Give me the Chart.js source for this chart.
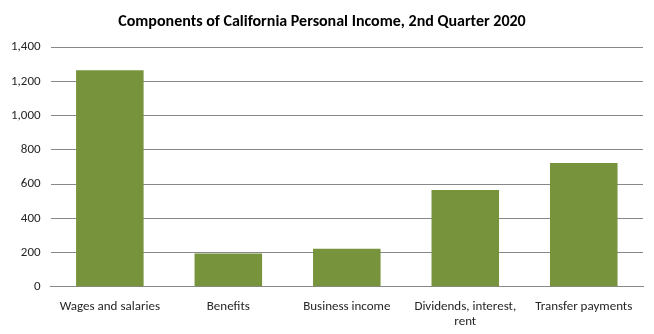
<!DOCTYPE html>
<html>
<head>
<meta charset="utf-8">
<script src="https://cdn.jsdelivr.net/npm/chart.js@4.4.0/dist/chart.umd.min.js"></script>
<style>
    html, body { margin: 0; padding: 0; background: #fff; }
    #wrap { width: 654px; height: 334px; }
</style>
</head>
<body>
<div id="wrap"><canvas id="chartIncome"></canvas></div>
<script>
const categories = ['Wages and salaries', 'Benefits', 'Business income', ['Dividends, interest,', 'rent'], 'Transfer payments'];
const incomeValues = [1265, 195, 222, 566, 723];
const yTicks = [0, 200, 400, 600, 800, 1000, 1200, 1400];

const gridGray = '#888888';
const fontFamily = 'Carlito, Calibri, "Liberation Sans", sans-serif';

new Chart(document.getElementById('chartIncome').getContext('2d'), {
    type: 'bar',
    data: {
        labels: categories,
        datasets: [{
            label: 'Personal income',
            data: incomeValues,
            backgroundColor: '#77933C',
            barPercentage: 0.57,
            categoryPercentage: 1
        }]
    },
    options: {
        responsive: true,
        maintainAspectRatio: false,
        animation: false,
        layout: { padding: { left: 1, right: 11, top: 8, bottom: 0 } },
        plugins: {
            legend: { display: false },
            tooltip: { enabled: false },
            title: {
                display: true,
                text: 'Components of California Personal Income, 2nd Quarter 2020',
                color: '#000',
                font: { family: fontFamily, size: 16, weight: 'bold' },
                padding: { top: 4, bottom: 16 }
            }
        },
        scales: {
            x: {
                grid: { display: false },
                border: { display: true, color: gridGray, width: 1 },
                ticks: {
                    color: '#262626',
                    font: { family: fontFamily, size: 13, lineHeight: 1.2 },
                    maxRotation: 0,
                    autoSkip: false,
                    padding: 4
                }
            },
            y: {
                min: 0,
                max: 1400,
                afterBuildTicks: axis => { axis.ticks = yTicks.map(v => ({ value: v })); },
                grid: { color: gridGray, lineWidth: 1, drawTicks: false },
                border: { display: false },
                ticks: {
                    color: '#262626',
                    font: { family: fontFamily, size: 13 },
                    padding: 10,
                    callback: v => v.toLocaleString('en-US')
                }
            }
        }
    }
});
</script>
</body>
</html>
